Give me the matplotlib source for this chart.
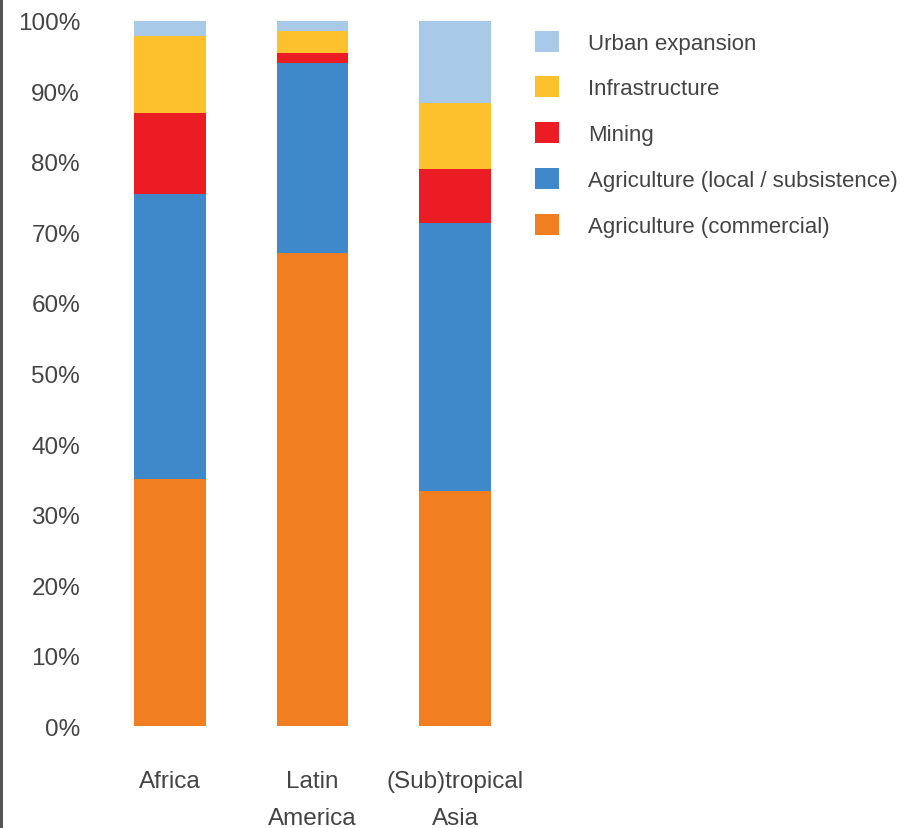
import numpy as np
import matplotlib.pyplot as plt
from matplotlib.patches import Rectangle

plt.rcParams['font.family'] = ['Liberation Sans', 'DejaVu Sans']

regions = ['Africa', 'Latin\nAmerica', '(Sub)tropical\nAsia']
drivers = ['Agriculture (commercial)', 'Agriculture (local / subsistence)',
           'Mining', 'Infrastructure', 'Urban expansion']

# share of deforestation per driver (%), bottom to top
commercial = [35.1, 67.1, 33.4]
subsistence = [40.4, 27.0, 38.0]
mining = [11.5, 1.3, 7.6]
infrastructure = [10.8, 3.2, 9.4]
urban = [2.2, 1.4, 11.6]

colors = ['#F17F22', '#3F88C9', '#EC1C24', '#FDC12E', '#A9C9E9']
text_col = '#444444'

fig = plt.figure(figsize=(9.10, 8.29), dpi=100)
ax = fig.add_axes([0.1154, 0.123, 0.456, 0.8505])

x = np.arange(len(regions))
bottom = np.zeros(len(regions))
handles = []
for vals, col, name in zip([commercial, subsistence, mining, infrastructure, urban], colors, drivers):
    b = ax.bar(x, vals, width=0.505, bottom=bottom, color=col, label=name, linewidth=0)
    handles.append(b)
    bottom += np.array(vals)

ax.set_xlim(-0.456, 2.456)
ax.set_ylim(0, 100)
ax.set_yticks(np.arange(0, 101, 10))
ax.set_yticklabels([f'{v}%' for v in range(0, 101, 10)])
ax.set_xticks(x)
ax.set_xticklabels(regions, linespacing=1.85, va='top')
ax.tick_params(axis='both', length=0, labelsize=17.5, labelcolor=text_col)
ax.tick_params(axis='y', pad=18)
ax.tick_params(axis='x', pad=32)
for s in ax.spines.values():
    s.set_visible(False)

leg = fig.legend(handles[::-1], drivers[::-1], loc='upper left',
                 bbox_to_anchor=(0.566, 0.986), frameon=False, fontsize=16,
                 labelcolor=text_col, handlelength=1.08, handleheight=1.08,
                 handletextpad=1.3, labelspacing=1.02)

# dark frame edge on the left
fig.add_artist(Rectangle((0, 0), 0.0035, 1, transform=fig.transFigure,
                         color='#555555', linewidth=0))

fig.savefig('out.png', dpi=100)
